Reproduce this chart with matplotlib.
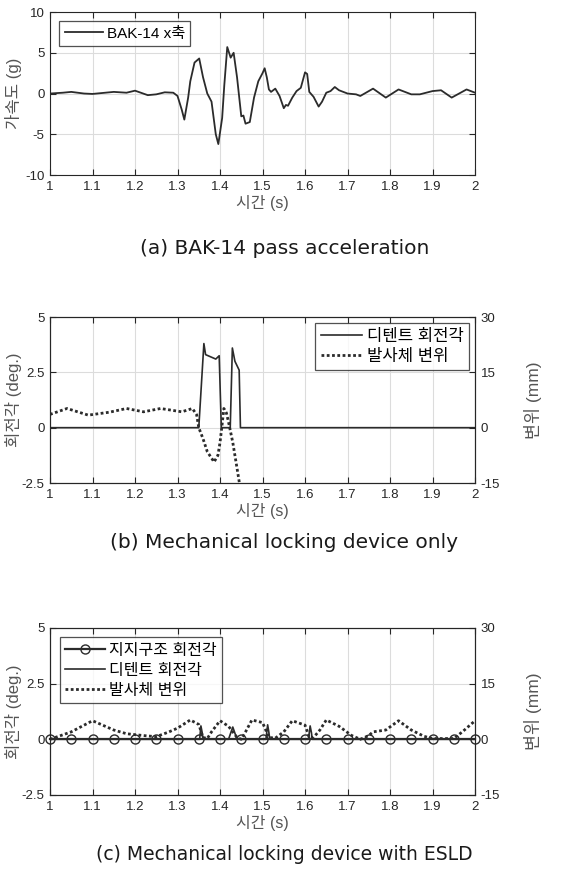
import matplotlib
matplotlib.use('Agg')
import matplotlib.pyplot as plt
import numpy as np

plt.rcParams['font.family'] = ['Liberation Sans', 'Noto Sans CJK KR', 'DejaVu Sans']
plt.rcParams['axes.unicode_minus'] = False

# (a) BAK-14 acceleration, x axis (g)
acc_t = [1.00, 1.03, 1.05, 1.08, 1.10, 1.13, 1.15, 1.18, 1.20, 1.23, 1.25, 1.27, 1.29,
         1.30, 1.31, 1.316, 1.325, 1.33, 1.34, 1.351, 1.36, 1.37, 1.38, 1.39, 1.396,
         1.405, 1.41, 1.417, 1.425, 1.432, 1.44, 1.45, 1.455, 1.46, 1.47, 1.48, 1.49,
         1.50, 1.505, 1.51, 1.515, 1.52, 1.53, 1.54, 1.55, 1.555, 1.56, 1.57, 1.58,
         1.59, 1.60, 1.605, 1.61, 1.62, 1.632, 1.64, 1.65, 1.66, 1.67, 1.68, 1.70,
         1.72, 1.73, 1.76, 1.79, 1.82, 1.85, 1.87, 1.90, 1.92, 1.945, 1.98, 2.00]
acc_g = [0.0, 0.1, 0.2, 0.0, -0.05, 0.1, 0.2, 0.1, 0.35, -0.2, -0.1, 0.15, 0.1,
         -0.3, -2.0, -3.2, -0.5, 1.5, 3.8, 4.3, 2.0, 0.0, -1.0, -5.0, -6.2,
         -3.0, 1.0, 5.7, 4.4, 5.0, 2.0, -2.8, -2.7, -3.7, -3.5, -0.5, 1.5,
         2.5, 3.1, 2.0, 0.5, 0.2, 0.6, -0.3, -1.8, -1.4, -1.5, -0.5, 0.3,
         0.7, 2.6, 2.4, 0.2, -0.4, -1.6, -1.0, 0.1, 0.3, 0.8, 0.4, 0.0,
         -0.1, -0.3, 0.6, -0.5, 0.5, -0.1, -0.1, 0.3, 0.4, -0.5, 0.5, 0.1]

# (b) mechanical locking device only
det_b_t = [1.00, 1.350, 1.362, 1.366, 1.390, 1.398, 1.403, 1.424, 1.429, 1.435, 1.445, 1.448, 2.00]
det_b_deg = [0.0, 0.0, 3.8, 3.3, 3.1, 3.25, 0.0, 0.0, 3.6, 3.0, 2.6, 0.0, 0.0]
disp_b_t = [1.00, 1.04, 1.09, 1.14, 1.18, 1.22, 1.26, 1.31, 1.335, 1.345, 1.35, 1.36,
            1.37, 1.386, 1.395, 1.40, 1.405, 1.409, 1.415, 1.42, 1.43, 1.44, 1.447]
disp_b_mm = [3.6, 5.2, 3.4, 4.2, 5.2, 4.3, 5.2, 4.3, 5.2, 3.5, 0.0, -3.0,
             -6.5, -9.3, -7.5, -4.0, 1.0, 5.2, 4.0, 1.5, -4.0, -11.0, -16.0]

# (c) mechanical locking device with ESLD
sup_c_t = [1.00, 1.05, 1.10, 1.15, 1.20, 1.25, 1.30, 1.35, 1.40, 1.45, 1.50,
           1.55, 1.60, 1.65, 1.70, 1.75, 1.80, 1.85, 1.90, 1.95, 2.00]
sup_c_deg = [0.0] * 21
det_c_t = [1.00, 1.352, 1.355, 1.358, 1.360, 1.42, 1.43, 1.44, 1.508, 1.512, 1.515,
           1.517, 1.608, 1.612, 1.615, 1.617, 2.00]
det_c_deg = [0.0, 0.0, 0.6, 0.3, 0.0, 0.0, 0.55, 0.0, 0.0, 0.65, 0.3,
             0.0, 0.0, 0.6, 0.3, 0.0, 0.0]
disp_c_t = [1.00, 1.05, 1.10, 1.15, 1.18, 1.22, 1.25, 1.28, 1.30, 1.33, 1.35, 1.36,
            1.37, 1.38, 1.40, 1.42, 1.44, 1.45, 1.46, 1.475, 1.50, 1.515, 1.53,
            1.55, 1.57, 1.60, 1.61, 1.62, 1.635, 1.65, 1.68, 1.71, 1.73, 1.75,
            1.76, 1.79, 1.82, 1.85, 1.88, 1.90, 1.95, 1.97, 2.00]
disp_c_mm = [0.0, 2.0, 5.0, 2.5, 1.5, 1.0, 0.7, 2.0, 3.0, 5.2, 4.0, 0.5,
             0.2, 2.0, 5.0, 3.5, 0.5, 0.0, 2.0, 5.2, 4.5, 0.5, 0.3,
             2.0, 5.0, 3.8, 0.5, 0.5, 2.5, 5.2, 3.5, 1.0, 0.0, 1.0,
             2.0, 2.5, 5.0, 2.5, 0.8, 0.2, 0.2, 2.0, 5.0]

x_ticks = np.round(np.arange(1.0, 2.01, 0.1), 1)
x_labels = ['1', '1.1', '1.2', '1.3', '1.4', '1.5', '1.6', '1.7', '1.8', '1.9', '2']

LINE = '#2b2b2b'
AXC = '#262626'
LAB = '#555555'
DOT = (0, (1, 0.9))
CAP_FONT = ['DejaVu Sans', 'Noto Sans CJK KR']


def style_axis(ax):
    ax.set_xlim(1, 2)
    ax.set_xticks(x_ticks)
    ax.set_xticklabels(x_labels)
    ax.grid(True, color='#dcdcdc', linewidth=0.8)
    ax.set_axisbelow(True)
    for s in ax.spines.values():
        s.set_color(AXC)
        s.set_linewidth(0.8)
    ax.tick_params(direction='in', length=4, labelsize=9.5, colors=AXC, top=True, pad=4)
    ax.set_xlabel('시간 (s)', fontsize=11.5, color=LAB, labelpad=2)


def make_legend(ax, handles, loc, pad, size):
    leg = ax.legend(handles=handles, loc=loc, fontsize=size, frameon=True, fancybox=False,
                    edgecolor=AXC, handlelength=2.5, borderpad=0.35, handletextpad=0.25,
                    borderaxespad=pad, labelspacing=0.3)
    leg.get_frame().set_linewidth(0.9)
    return leg


fig = plt.figure(figsize=(5.69, 8.84), dpi=100)

# panel (a)
ax1 = fig.add_axes([0.0879, 0.802, 0.747, 0.1844])
a1, = ax1.plot(acc_t, acc_g, color=LINE, linewidth=1.3, label='BAK-14 x축')
style_axis(ax1)
ax1.tick_params(right=True)
ax1.set_ylim(-10, 10)
ax1.set_yticks([-10, -5, 0, 5, 10])
ax1.set_ylabel('가속도 (g)', fontsize=12, color=LAB, labelpad=2)
make_legend(ax1, [a1], 'upper left', 0.6, 11)
fig.text(0.5, 1 - 248 / 884, '(a) BAK-14 pass acceleration', ha='center', va='center',
         fontsize=14.5, color='#1a1a1a', family=CAP_FONT)


def twin_panel(rect):
    ax = fig.add_axes(rect)
    style_axis(ax)
    ax.set_ylim(-2.5, 5)
    ax.set_yticks([-2.5, 0, 2.5, 5])
    ax.set_yticklabels(['-2.5', '0', '2.5', '5'])
    ax.set_ylabel('회전각 (deg.)', fontsize=12, color=LAB, labelpad=0)
    axr = ax.twinx()
    axr.set_ylim(-15, 30)
    axr.set_yticks([-15, 0, 15, 30])
    axr.tick_params(direction='in', length=4, labelsize=9.5, colors=AXC, pad=4)
    axr.set_ylabel('변위 (mm)', fontsize=12.5, color=LAB, labelpad=17)
    for s in axr.spines.values():
        s.set_color(AXC)
        s.set_linewidth(0.8)
    return ax, axr


# panel (b)
ax2, ax2r = twin_panel([0.0879, 0.4536, 0.747, 0.1878])
h1, = ax2.plot(det_b_t, det_b_deg, color=LINE, linewidth=1.2, label='디텐트 회전각')
h2, = ax2r.plot(disp_b_t, disp_b_mm, color=LINE, linewidth=2.0, linestyle=DOT,
                label='발사체 변위')
make_legend(ax2r, [h1, h2], 'upper right', 0.35, 12)
fig.text(0.5, 1 - 543 / 884, '(b) Mechanical locking device only', ha='center',
         va='center', fontsize=14.5, color='#1a1a1a', family=CAP_FONT)

# panel (c)
ax3, ax3r = twin_panel([0.0879, 0.1007, 0.747, 0.189])
g1, = ax3.plot(sup_c_t, sup_c_deg, color=LINE, linewidth=1.6, marker='o', markersize=6.5,
               markerfacecolor='none', markeredgewidth=1.0, clip_on=False,
               label='지지구조 회전각', zorder=4)
g2, = ax3.plot(det_c_t, det_c_deg, color=LINE, linewidth=1.2, label='디텐트 회전각')
g3, = ax3r.plot(disp_c_t, disp_c_mm, color=LINE, linewidth=2.0, linestyle=DOT,
                label='발사체 변위')
make_legend(ax3r, [g1, g2, g3], 'upper left', 0.6, 11.5)
fig.text(0.5, 1 - 855 / 884, '(c) Mechanical locking device with ESLD', ha='center',
         va='center', fontsize=13.5, color='#1a1a1a', family=CAP_FONT)

fig.savefig('out.png', dpi=100)
